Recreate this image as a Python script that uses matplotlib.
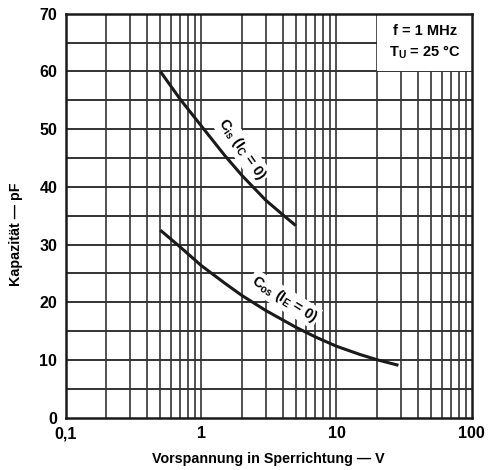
import numpy as np
import matplotlib
matplotlib.use("Agg")
import matplotlib.pyplot as plt
from matplotlib.patches import Rectangle

# curve values (V, pF)
v_cis = [0.5, 0.7, 1.0, 1.5, 2.0, 3.0, 4.0, 5.0]
c_cis = [60.0, 55.2, 50.6, 45.4, 42.0, 37.7, 35.2, 33.3]

v_cos = [0.5, 0.7, 1.0, 1.5, 2.0, 3.0, 5.0, 7.0, 10.0, 15.0, 20.0, 28.7]
c_cos = [32.5, 29.6, 26.4, 23.3, 21.2, 18.6, 15.7, 14.0, 12.4, 10.95, 10.05, 9.1]

x_ticks = [0.1, 1, 10, 100]
x_ticklabels = ["0,1", "1", "10", "100"]
y_ticks = [0, 10, 20, 30, 40, 50, 60, 70]

plt.rcParams['font.family'] = ['Liberation Sans', 'DejaVu Sans']
plt.rcParams['mathtext.fontset'] = 'custom'
plt.rcParams['mathtext.rm'] = 'Liberation Sans:bold'
plt.rcParams['mathtext.it'] = 'Liberation Sans:bold'
plt.rcParams['mathtext.bf'] = 'Liberation Sans:bold'

fig = plt.figure(figsize=(4.9, 4.7), dpi=100)
ax = fig.add_axes([0.134, 0.111, 0.829, 0.86])

ax.set_xscale('log')
ax.set_xlim(0.1, 100)
ax.set_ylim(0, 70)

# log grid 1..9 per decade, horizontal every 5 pF
grid_col = '#333333'
for dec in [0.1, 1, 10]:
    for k in range(1, 10):
        xv = dec * k
        if 0.1 < xv < 100:
            ax.axvline(xv, color=grid_col, lw=1.2, zorder=1)
for yv in np.arange(5, 70, 5):
    ax.axhline(yv, color=grid_col, lw=1.4, zorder=1)

# white box for the conditions text
ax.add_patch(Rectangle((20, 60), 80, 10, facecolor='white', edgecolor='none', zorder=2))
ax.text(45, 67.0, "f = 1 MHz", ha='center', va='center', fontsize=10.5, fontweight='bold', zorder=3)
ax.text(45, 63.3, r"T$_{\mathregular{U}}$ = 25 °C", ha='center', va='center', fontsize=10.5,
        fontweight='bold', zorder=3)

ax.plot(v_cis, c_cis, color='#1a1a1a', lw=2.2, zorder=4, solid_capstyle='butt')
ax.plot(v_cos, c_cos, color='#1a1a1a', lw=2.2, zorder=4, solid_capstyle='butt')

ax.text(2.0, 46.6, r"C$_{\mathregular{is}}$ (I$_{\mathregular{C}}$ = 0)", rotation=-55,
        ha='center', va='center', fontsize=10.5, fontweight='bold', zorder=3,
        bbox=dict(facecolor='white', edgecolor='none', pad=1.5))
ax.text(4.1, 20.6, r"C$_{\mathregular{os}}$ (I$_{\mathregular{E}}$ = 0)", rotation=-32,
        ha='center', va='center', fontsize=10.5, fontweight='bold', zorder=3,
        bbox=dict(facecolor='white', edgecolor='none', pad=1.5))

ax.set_xticks(x_ticks)
ax.set_xticklabels(x_ticklabels)
ax.set_yticks(y_ticks)
ax.minorticks_off()
ax.tick_params(length=0, labelsize=11.5, pad=6)
for lab in ax.get_xticklabels() + ax.get_yticklabels():
    lab.set_fontweight('bold')

for sp in ax.spines.values():
    sp.set_linewidth(1.8)
    sp.set_color('#1a1a1a')
    sp.set_zorder(5)

ax.set_xlabel("Vorspannung in Sperrichtung — V", fontsize=10.3, fontweight='bold', labelpad=8)
ax.set_ylabel("Kapazität — pF", fontsize=10.3, fontweight='bold')
ax.yaxis.set_label_coords(-0.105, 0.455)

fig.savefig("out.png", dpi=100)
